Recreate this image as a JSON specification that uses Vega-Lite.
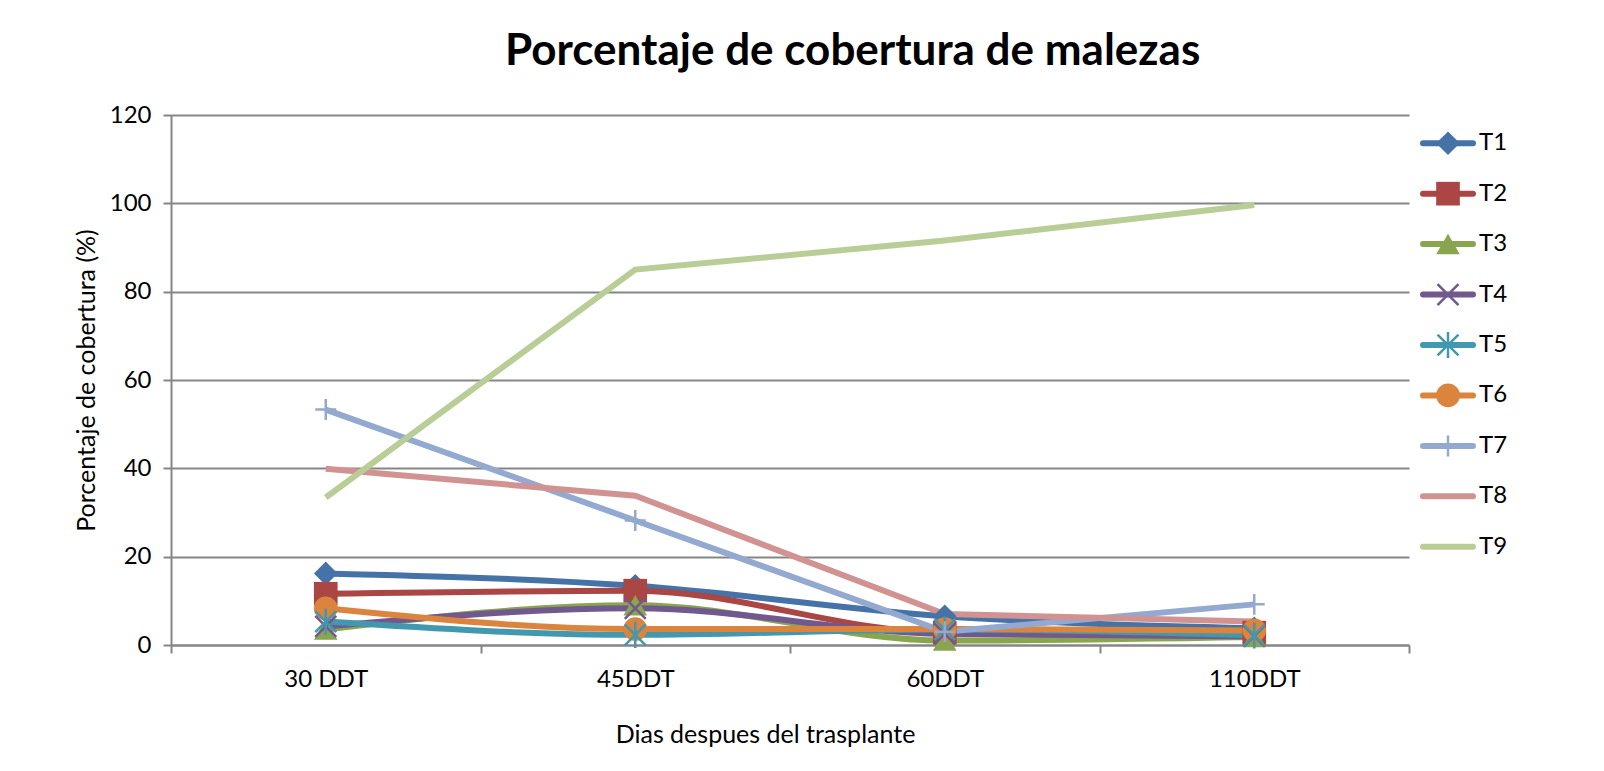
{
  "$schema": "https://vega.github.io/schema/vega-lite/v6.json",
  "background": "white",
  "padding": {"left": 74, "top": 30, "right": 0, "bottom": 5},
  "spacing": 10,
  "title": {"text": "Porcentaje de cobertura de malezas", "font": "Lato", "fontSize": 44, "fontWeight": "bold", "color": "black", "anchor": "middle", "offset": 29, "dx": 50},
  "config": {"view": {"stroke": null}, "font": "Lato"},
  "datasets": {
    "cov": [
      {"serie": "T1", "dia": "30 DDT", "valor": 16.2},
      {"serie": "T1", "dia": "45DDT", "valor": 13.4},
      {"serie": "T1", "dia": "60DDT", "valor": 6.5},
      {"serie": "T1", "dia": "110DDT", "valor": 3.8},
      {"serie": "T2", "dia": "30 DDT", "valor": 11.6},
      {"serie": "T2", "dia": "45DDT", "valor": 12.3},
      {"serie": "T2", "dia": "60DDT", "valor": 2.8},
      {"serie": "T2", "dia": "110DDT", "valor": 2.8},
      {"serie": "T3", "dia": "30 DDT", "valor": 3.5},
      {"serie": "T3", "dia": "45DDT", "valor": 9.0},
      {"serie": "T3", "dia": "60DDT", "valor": 1.0},
      {"serie": "T3", "dia": "110DDT", "valor": 1.8},
      {"serie": "T4", "dia": "30 DDT", "valor": 4.2},
      {"serie": "T4", "dia": "45DDT", "valor": 8.3},
      {"serie": "T4", "dia": "60DDT", "valor": 2.5},
      {"serie": "T4", "dia": "110DDT", "valor": 2.0},
      {"serie": "T5", "dia": "30 DDT", "valor": 5.3},
      {"serie": "T5", "dia": "45DDT", "valor": 2.3},
      {"serie": "T5", "dia": "60DDT", "valor": 3.5},
      {"serie": "T5", "dia": "110DDT", "valor": 2.2},
      {"serie": "T6", "dia": "30 DDT", "valor": 8.3},
      {"serie": "T6", "dia": "45DDT", "valor": 3.6},
      {"serie": "T6", "dia": "60DDT", "valor": 3.6},
      {"serie": "T6", "dia": "110DDT", "valor": 3.3},
      {"serie": "T7", "dia": "30 DDT", "valor": 53.3},
      {"serie": "T7", "dia": "45DDT", "valor": 28.2},
      {"serie": "T7", "dia": "60DDT", "valor": 3.0},
      {"serie": "T7", "dia": "110DDT", "valor": 9.2},
      {"serie": "T8", "dia": "30 DDT", "valor": 39.9},
      {"serie": "T8", "dia": "45DDT", "valor": 33.8},
      {"serie": "T8", "dia": "60DDT", "valor": 7.0},
      {"serie": "T8", "dia": "110DDT", "valor": 5.3},
      {"serie": "T9", "dia": "30 DDT", "valor": 33.4},
      {"serie": "T9", "dia": "45DDT", "valor": 85.0},
      {"serie": "T9", "dia": "60DDT", "valor": 91.6},
      {"serie": "T9", "dia": "110DDT", "valor": 99.6}
    ]
  },
  "hconcat": [
    {
      "width": 1238,
      "height": 530,
      "data": {"name": "cov"},
      "encoding": {
        "x": {"field": "dia", "type": "nominal", "bandPosition": 0.5,
          "sort": ["30 DDT", "45DDT", "60DDT", "110DDT"],
          "scale": {"type": "band", "paddingInner": 0, "paddingOuter": 0},
          "axis": {"title": "Dias despues del trasplante", "labelAngle": 0, "tickBand": "extent", "grid": false,
            "domainColor": "#868686", "domainWidth": 2, "tickColor": "#868686", "tickWidth": 2, "tickSize": 8,
            "labelFontSize": 24, "labelColor": "black", "labelFont": "Lato", "labelPadding": 14,
            "titleFontSize": 25, "titleFont": "Lato", "titleFontWeight": "normal", "titleColor": "black", "titlePadding": 31, "titleX": 594}},
        "y": {"field": "valor", "type": "quantitative",
          "scale": {"domain": [0, 120], "nice": false},
          "axis": {"title": "Porcentaje de cobertura (%)", "values": [0, 20, 40, 60, 80, 100, 120], "grid": true,
            "gridColor": "#868686", "gridWidth": 2, "domainColor": "#868686", "domainWidth": 2,
            "tickColor": "#868686", "tickWidth": 2, "tickSize": 8,
            "labelFontSize": 24, "labelColor": "black", "labelFont": "Lato", "labelPadding": 12,
            "titleFontSize": 25, "titleFont": "Lato", "titleFontWeight": "normal", "titleColor": "black", "titlePadding": 10}},
        "color": {"field": "serie", "type": "nominal",
          "scale": {"domain": ["T1", "T2", "T3", "T4", "T5", "T6", "T7", "T8", "T9"],
            "range": ["#4572A7", "#AA4643", "#89A54E", "#71588F", "#4198AF", "#DB843D", "#93A9CF", "#D19392", "#B9CD96"]},
          "legend": null}
      },
      "layer": [
        {
          "transform": [{"filter": "indexof(['T1','T2','T3','T4','T5','T6'], datum.serie) >= 0"}],
          "mark": {"type": "line", "strokeWidth": 6, "interpolate": "monotone"},
          "encoding": {"detail": {"field": "serie"}}
        },
        {
          "transform": [{"filter": "indexof(['T7','T8','T9'], datum.serie) >= 0"}],
          "mark": {"type": "line", "strokeWidth": 6, "interpolate": "linear"},
          "encoding": {"detail": {"field": "serie"}}
        },
        {
          "transform": [{"filter": "indexof(['T1','T2','T3','T6'], datum.serie) >= 0"}],
          "mark": {"type": "point", "filled": true, "opacity": 1, "size": 560},
          "encoding": {"shape": {"field": "serie", "type": "nominal",
            "scale": {"domain": ["T1", "T2", "T3", "T4", "T5", "T6", "T7", "T8", "T9"],
              "range": ["diamond", "square", "triangle-up", "M-1,-1L1,1M-1,1L1,-1", "M-1,-1L1,1M-1,1L1,-1M0,-1.25L0,1.25", "circle", "M-1,0L1,0M0,-1L0,1", "circle", "circle"]},
            "legend": null}}
        },
        {
          "transform": [{"filter": "indexof(['T4','T5','T7'], datum.serie) >= 0"}],
          "mark": {"type": "point", "filled": false, "opacity": 1, "size": 440, "strokeWidth": 2.5},
          "encoding": {"shape": {"field": "serie", "type": "nominal", "legend": null}}
        }
      ]
    },
    {
      "width": 110,
      "height": 454,
      "data": {"name": "cov"},
      "transform": [{"filter": "datum.dia == '30 DDT'"}],
      "encoding": {
        "y": {"field": "serie", "type": "nominal", "bandPosition": 0.5,
          "scale": {"type": "band", "paddingInner": 0, "paddingOuter": 0, "domain": ["T1", "T2", "T3", "T4", "T5", "T6", "T7", "T8", "T9"]},
          "axis": null},
        "color": {"field": "serie", "type": "nominal", "legend": null}
      },
      "layer": [
        {
          "mark": {"type": "rule", "strokeWidth": 6, "strokeCap": "round", "yOffset": 3},
          "encoding": {"x": {"datum": 2, "type": "quantitative", "scale": {"domain": [0, 110], "nice": false}, "axis": null}, "x2": {"datum": 52}}
        },
        {
          "transform": [{"filter": "indexof(['T1','T2','T3','T6'], datum.serie) >= 0"}],
          "mark": {"type": "point", "filled": true, "opacity": 1, "size": 560, "yOffset": 3},
          "encoding": {"x": {"datum": 27, "type": "quantitative"}, "shape": {"field": "serie", "type": "nominal", "legend": null}}
        },
        {
          "transform": [{"filter": "indexof(['T4','T5','T7'], datum.serie) >= 0"}],
          "mark": {"type": "point", "filled": false, "opacity": 1, "size": 440, "strokeWidth": 2.5, "yOffset": 3},
          "encoding": {"x": {"datum": 27, "type": "quantitative"}, "shape": {"field": "serie", "type": "nominal", "legend": null}}
        },
        {
          "mark": {"type": "text", "align": "left", "baseline": "middle", "fontSize": 24, "font": "Lato", "color": "black", "dy": 3},
          "encoding": {"x": {"datum": 58, "type": "quantitative"}, "text": {"field": "serie"}, "color": {"value": "black"}}
        }
      ]
    }
  ]
}
